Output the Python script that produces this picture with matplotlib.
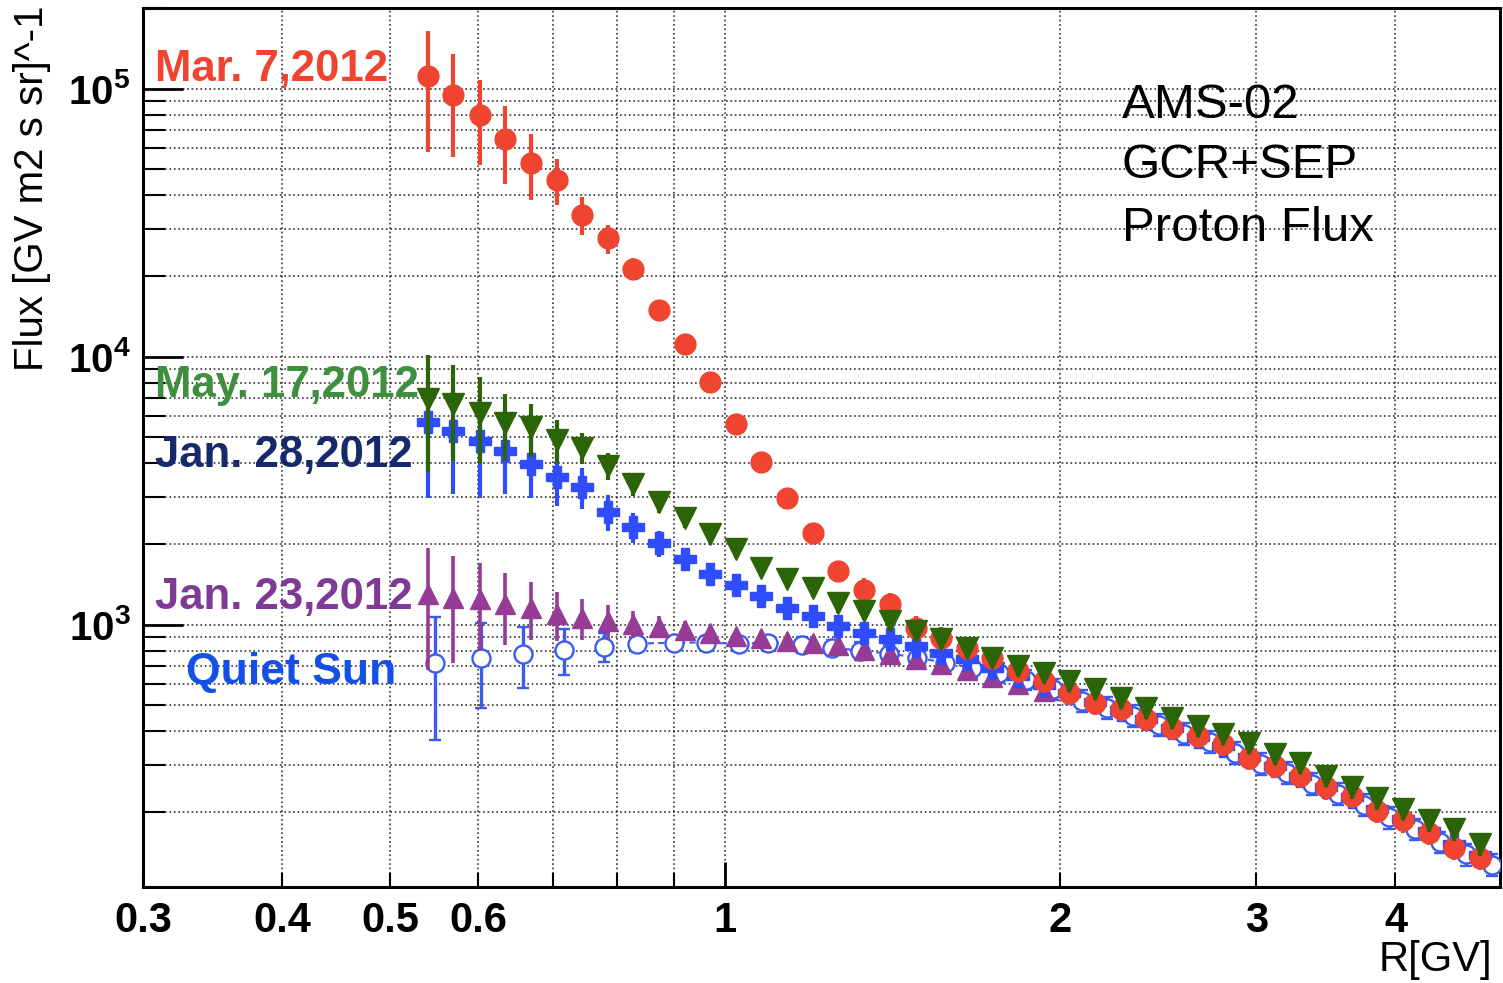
import matplotlib
matplotlib.use('Agg')
import matplotlib.pyplot as plt
from matplotlib.ticker import FixedLocator, FixedFormatter, NullFormatter

plt.rcParams['font.family'] = ['Liberation Sans', 'DejaVu Sans']
plt.rcParams['mathtext.fontset'] = 'custom'
plt.rcParams['mathtext.rm'] = 'Liberation Sans'
plt.rcParams['mathtext.bf'] = 'Liberation Sans:bold'

# ---------------- data ----------------
rig_bins = [0.541, 0.570, 0.602, 0.634, 0.669, 0.706, 0.744, 0.785, 0.827, 0.872,
            0.920, 0.970, 1.023, 1.078, 1.137, 1.199, 1.264, 1.333, 1.406, 1.483,
            1.563, 1.648, 1.738, 1.833, 1.933, 2.038, 2.149, 2.266, 2.390, 2.520,
            2.657, 2.802, 2.955, 3.116, 3.286, 3.465, 3.654, 3.853, 4.063, 4.284,
            4.518, 4.764]

mar7_flux = [1.11e5, 9.5e4, 8.0e4, 6.5e4, 5.3e4, 4.57e4, 3.39e4, 2.76e4, 2.13e4, 1.49e4,
             1.11e4, 8070, 5630, 4060, 2980, 2200, 1590, 1352, 1197, 975,
             894, 820, 753, 673, 618, 557, 512, 486, 446, 413,
             385, 360, 319, 298, 273, 247, 230, 202, 186, 167,
             147, 135]
mar7_err = [53000, 39500, 28000, 21000, 14500, 9000, 5500, 3500, 2000, 1000,
            600, 400, 250, 180, 130, 100, 80, 135, 120, 98,
            89, 82, 75, 67, 62, 56, 51, 49, 45, 41,
            39, 36, 32, 30, 27, 25, 23, 20, 19, 17,
            15, 14]

may17_flux = [6920, 6680, 6180, 5670, 5440, 4900, 4580, 3920, 3360, 2870,
              2490, 2180, 1910, 1630, 1480, 1370, 1200, 1128, 1035, 950,
              887, 820, 753, 703, 662, 618, 577, 534, 490, 450,
              420, 392, 363, 330, 305, 273, 247, 226, 206, 186,
              173, 152]
may17_err = [3200, 2600, 2200, 1600, 1200, 900, 600, 450, 330, 250,
             200, 160, 130, 115, 105, 100, 95, 90, 85, 80,
             75, 70, 66, 62, 58, 55, 52, 48, 45, 42,
             40, 37, 34, 31, 29, 26, 24, 22, 20, 18,
             17, 15]

jan28_flux = [5720, 5300, 4860, 4430, 3990, 3570, 3270, 2640, 2320, 2010,
              1760, 1550, 1400, 1282, 1157, 1080, 991, 934, 887, 835,
              786, 747, 691, 645, 597, 557, 515, 480, 443, 410,
              380, 352, 322, 297, 272, 248, 228, 205, 188, 170,
              152, 138]
jan28_err = [2740, 2220, 1880, 1350, 1010, 790, 560, 400, 300, 220,
             170, 130, 100, 85, 75, 70, 65, 60, 56, 52,
             48, 45, 42, 40, 37, 35, 32, 30, 28, 26,
             24, 22, 20, 19, 17, 16, 15, 14, 13, 12,
             11, 10]

jan23_flux = [1306, 1261, 1250, 1198, 1157, 1099, 1062, 1035, 1009, 983,
              958, 934, 910, 894, 872, 857, 842, 807, 780, 747,
              715, 679, 640, 603, 567]
jan23_err = [630, 540, 450, 360, 280, 230, 185, 150, 120, 95,
             75, 60, 45, 38, 30, 25, 20, 18, 15, 14,
             13, 12, 11, 10, 10]

quiet_rig = [0.549, 0.604, 0.659, 0.717, 0.779, 0.834, 0.900, 0.962, 1.029, 1.093,
             1.173, 1.248, 1.322, 1.404, 1.488, 1.576, 1.667, 1.763, 1.864, 1.971,
             2.093, 2.205, 2.326, 2.455, 2.585, 2.728, 2.872, 3.031, 3.198, 3.368,
             3.554, 3.751, 3.950, 4.168, 4.389, 4.632, 4.888]
quiet_flux = [721, 753, 780, 807, 828, 849, 857, 857, 849, 857,
              842, 821, 800, 780, 753, 721, 691, 662, 623, 577,
              521, 490, 458, 424, 392, 366, 333, 303, 280, 255,
              234, 213, 191, 173, 155, 139, 127]
quiet_err = [350, 263, 200, 160, 105, 60, 45, 45, 45, 50,
             55, 55, 60, 60, 60, 60, 58, 57, 55, 52,
             48, 45, 42, 39, 36, 34, 31, 28, 26, 24,
             22, 20, 18, 16, 14, 13, 12]

x_major = [1]
x_major_labels = ['1']
x_minor = [0.3, 0.4, 0.5, 0.6, 0.7, 0.8, 0.9, 2, 3, 4]
x_minor_labels = ['0.3', '0.4', '0.5', '0.6', '', '', '', '2', '3', '4']
y_major = [1e3, 1e4, 1e5]
y_major_labels = [r'$\mathbf{10^{3}}$', r'$\mathbf{10^{4}}$', r'$\mathbf{10^{5}}$']

# ---------------- colours ----------------
c_red = '#ee4430'
c_green = '#2c6408'
c_blue = '#2f4dff'
c_purple = '#963c96'
c_quiet = '#3a5cf2'

fig = plt.figure(figsize=(15.03, 9.83), dpi=100)
ax = fig.add_axes([0.0951, 0.0977, 0.9032, 0.8942])
ax.set_xscale('log')
ax.set_yscale('log')
ax.set_xlim(0.3, 4.97)
ax.set_ylim(105, 2.0e5)

# quiet sun (open circles, dashed line)
ax.plot(quiet_rig[5:], quiet_flux[5:], ls=(0, (3, 2)), color=c_quiet, lw=1.5, zorder=3)
ax.errorbar(quiet_rig, quiet_flux, yerr=quiet_err, fmt='o', ms=13, mfc='white',
            mec=c_quiet, mew=1.7, ecolor=c_quiet, elinewidth=2.4, capsize=4,
            capthick=2.4, zorder=3)
# Jan 23 (purple up-triangles)
ax.errorbar(rig_bins[:len(jan23_flux)], jan23_flux, yerr=jan23_err, fmt='^', ms=15,
            color=c_purple, elinewidth=2.6, capsize=0, zorder=4)
# Jan 28 (blue crosses)
ax.errorbar(rig_bins, jan28_flux, yerr=jan28_err, fmt='P', ms=16, color=c_blue,
            elinewidth=3, capsize=0, zorder=5)
# Mar 7 (red circles)
ax.errorbar(rig_bins, mar7_flux, yerr=mar7_err, fmt='o', ms=15, color=c_red,
            elinewidth=3, capsize=0, zorder=6)
# May 17 (green down-triangles)
ax.errorbar(rig_bins, may17_flux, yerr=may17_err, fmt='v', ms=16, color=c_green,
            elinewidth=3, capsize=0, zorder=7)

# ---------------- axes styling ----------------
ax.xaxis.set_major_locator(FixedLocator(x_major))
ax.xaxis.set_major_formatter(FixedFormatter(x_major_labels))
ax.xaxis.set_minor_locator(FixedLocator(x_minor))
ax.xaxis.set_minor_formatter(FixedFormatter(x_minor_labels))
y_minor = [m * 10 ** e for e in (2, 3, 4, 5) for m in range(2, 10)]
ax.yaxis.set_major_locator(FixedLocator(y_major))
ax.yaxis.set_major_formatter(FixedFormatter(y_major_labels))
ax.yaxis.set_minor_locator(FixedLocator(y_minor))
ax.yaxis.set_minor_formatter(NullFormatter())

ax.tick_params(axis='y', which='major', direction='in', length=29, width=2,
               labelsize=29, pad=9)
ax.tick_params(axis='y', which='minor', direction='in', length=16, width=1.5)
ax.tick_params(axis='x', which='major', direction='in', length=18, width=2,
               labelsize=30, pad=10)
ax.tick_params(axis='x', which='minor', direction='in', length=10, width=1.5,
               labelsize=30, pad=10)
for lab in ax.get_xticklabels(which='both'):
    lab.set_fontweight('bold')

ax.grid(True, which='both', ls=':', lw=1.2, color='black', alpha=0.8, zorder=0)
ax.set_axisbelow(True)
for sp in ax.spines.values():
    sp.set_linewidth(2.2)

# ---------------- texts ----------------
fig.text(0.021, 0.809, 'Flux [GV m2 s sr]^-1', rotation=90, ha='center', va='center',
         fontsize=29)
fig.text(0.993, 0.023, 'R[GV]', ha='right', va='center', fontsize=30)

fig.text(0.103, 0.929, 'Mar. 7,2012', color=c_red, fontsize=31.5, fontweight='bold',
         ha='left', va='center')
fig.text(0.103, 0.608, 'May. 17,2012', color='#3f8f3f', fontsize=31.5, fontweight='bold',
         ha='left', va='center')
fig.text(0.103, 0.537, 'Jan. 28,2012', color='#16296b', fontsize=31.5, fontweight='bold',
         ha='left', va='center')
fig.text(0.103, 0.392, 'Jan. 23,2012', color='#7e3b96', fontsize=31.5, fontweight='bold',
         ha='left', va='center')
fig.text(0.124, 0.316, 'Quiet Sun', color='#1450e6', fontsize=32, fontweight='bold',
         ha='left', va='center')

fig.text(0.7465, 0.893, 'AMS-02', fontsize=35.5, ha='left', va='center')
fig.text(0.7465, 0.832, 'GCR+SEP', fontsize=35.5, ha='left', va='center')
fig.text(0.7465, 0.768, 'Proton Flux', fontsize=35.5, ha='left', va='center')

fig.savefig('out.png', dpi=100)
